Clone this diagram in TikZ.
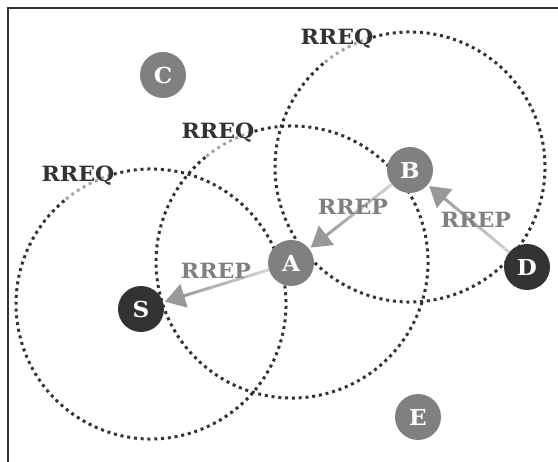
\documentclass[tikz,border=0pt]{standalone}
\usepackage{fontspec}
\usetikzlibrary{arrows.meta,calc}
\newfontfamily\diagfont{DejaVu Serif}[FakeStretch=1.05]
\definecolor{nodegrey}{RGB}{128,128,128}
\definecolor{nodedark}{RGB}{51,51,51}
\definecolor{rangeline}{RGB}{51,51,51}
\definecolor{reqgrey}{RGB}{165,165,165}
\definecolor{repgrey}{RGB}{128,128,128}
\definecolor{tipgrey}{RGB}{153,153,153}

\tikzset{
  host/.style={circle, fill=nodegrey, minimum size=46pt, inner sep=0pt, text=white, font=\diagfont\bfseries\fontsize{22}{26}\selectfont},
  endpt/.style={host, fill=nodedark},
  hoprange/.style={draw=rangeline, line width=3pt, dash pattern=on 3pt off 3.8pt},
  fadearc/.style={hoprange, draw=reqgrey},
  rreq/.style={text=rangeline, inner sep=0pt, font=\diagfont\bfseries\fontsize{21}{25}\selectfont},
  rrep/.style={text=repgrey, inner sep=0pt, font=\diagfont\bfseries\fontsize{21}{25}\selectfont},
}

% reply arrow, light at the sender, darker at the tip
\newcommand{\rrepline}[2]{%
  \coordinate (p) at ($(#1)!23pt!(#2)$);
  \coordinate (q) at ($(#2)!25pt!(#1)$);
  \coordinate (r) at ($(q)!19pt!(p)$);
  \foreach \k in {0,...,11}{
    \pgfmathsetmacro{\fa}{\k/12}
    \pgfmathsetmacro{\fb}{(\k+1)/12}
    \pgfmathsetmacro{\shade}{18+1.8*\k}
    \draw[line width=3pt, draw=black!\shade] ($(p)!\fa!(r)$) -- ($(p)!\fb!(r)$);
  }
  \draw[line width=3pt, draw=tipgrey, -{Triangle[length=20pt,width=24pt]}] ($(r)!2pt!(p)$) -- (q);
}

\begin{document}
\begin{tikzpicture}[x=1pt, y=-1pt]
  \useasboundingbox (0,0) rectangle (558,462);
  \draw[nodedark, line width=1.5pt] (8,462) -- (8,8) -- (558,8);

  % radio ranges
  \coordinate (rs) at (151,304);
  \coordinate (ra) at (292,262);
  \coordinate (rb) at (410,167);
  \foreach \c/\rad in {rs/135, ra/136, rb/135}{
    \draw[hoprange] ($(\c)+(-106:\rad)$) arc[start angle=-106, end angle=231, radius=\rad];
    \draw[fadearc] ($(\c)+(-129:\rad)$) arc[start angle=-129, end angle=-106, radius=\rad];
  }
  \node[rreq] (q1) at (78,176) {RREQ};
  \node[rreq] (q2) at (218,133) {RREQ};
  \node[rreq] (q3) at (337,39) {RREQ};

  % hosts
  \node[host] (C) at (163,75) {C};
  \node[endpt] (S) at (141,309) {S};
  \node[host] (A) at (291,263) {A};
  \node[host] (B) at (410,170) {B};
  \node[endpt] (D) at (527,267) {D};
  \node[host] (E) at (418,417) {E};

  % route reply
  \rrepline{D}{B}
  \rrepline{B}{A}
  \rrepline{A}{S}
  \node[rrep] (p1) at (476,220) {RREP};
  \node[rrep] (p2) at (353,207) {RREP};
  \node[rrep] (p3) at (216,271) {RREP};
\end{tikzpicture}
\end{document}
